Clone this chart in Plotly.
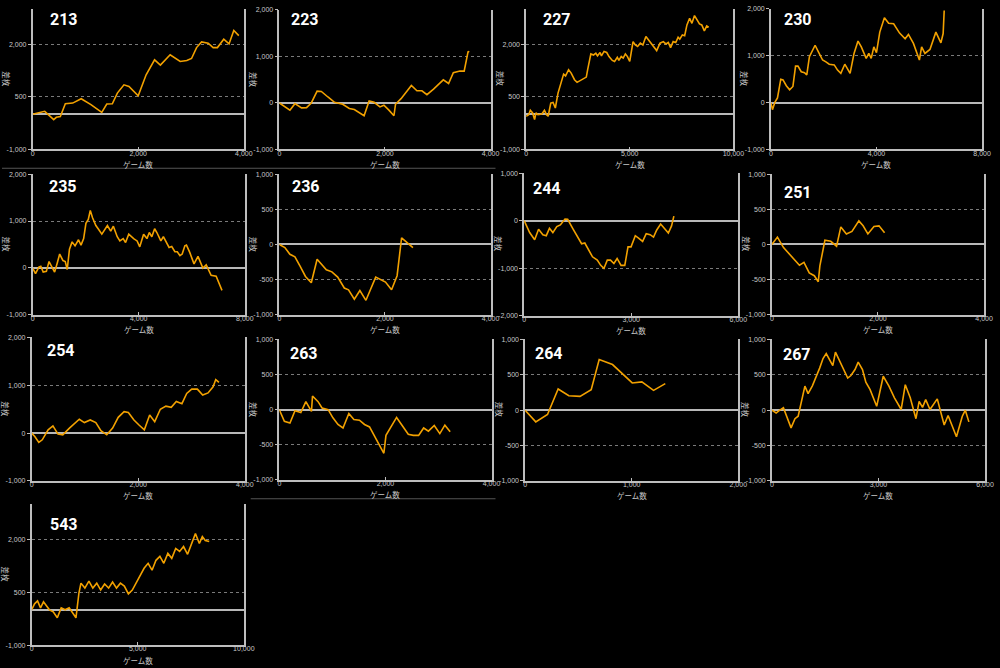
import plotly.graph_objects as go

# ---------------- data ----------------
names = ["213", "223", "227", "230", "235", "236", "244", "251", "254", "263", "264", "267", "543"]

x_213 = [0, 230, 400, 450, 525, 620, 760, 920, 1105, 1310, 1405, 1510, 1605, 1730, 1825, 2000, 2150, 2310, 2420, 2605, 2795, 2920, 3010, 3105, 3200, 3325, 3420, 3500, 3620, 3720, 3810, 3905]
y_213 = [0, 85, -150, -85, -65, 300, 320, 445, 275, 55, 295, 300, 605, 840, 795, 530, 1125, 1550, 1400, 1695, 1505, 1530, 1590, 1900, 2060, 2025, 1900, 1900, 2140, 2005, 2385, 2240]

x_223 = [0, 200, 295, 420, 515, 605, 715, 795, 920, 1045, 1200, 1325, 1420, 1605, 1700, 1795, 1905, 1980, 2075, 2170, 2200, 2305, 2500, 2605, 2700, 2795, 2920, 3030, 3105, 3205, 3295, 3420, 3500, 3575, 3595]
y_223 = [0, -155, -15, -105, -100, 0, 255, 248, 128, 14, -28, -120, -140, -275, 43, 14, -85, -50, -155, -275, -28, 92, 375, 262, 262, 177, 298, 418, 497, 418, 650, 685, 685, 1110, 1090]

x_227 = [0, 125, 205, 315, 410, 475, 570, 760, 885, 985, 1065, 1190, 1300, 1410, 1540, 1665, 1810, 1905, 2050, 2175, 2335, 2460, 2620, 2780, 2905, 2970, 3050, 3125, 3255, 3365, 3445, 3570, 3635, 3760, 3890, 4000, 4160, 4270, 4400, 4475, 4590, 4685, 4790, 4890, 5000, 5160, 5270, 5380, 5510, 5635, 5780, 5905, 6065, 6300, 6460, 6620, 6745, 6860, 6970, 7095, 7220, 7335, 7415, 7540, 7650, 7760, 7890, 8000, 8125, 8240, 8365, 8475, 8600, 8715, 8810]
y_227 = [-55, -10, 115, 40, -150, 40, -10, 10, 115, -10, -55, 320, 340, 180, 605, 890, 1145, 1095, 1270, 1175, 985, 910, 965, 1030, 1060, 1270, 1505, 1720, 1690, 1740, 1665, 1760, 1665, 1790, 1760, 1645, 1535, 1505, 1620, 1535, 1645, 1600, 1720, 1645, 1505, 2070, 1975, 1930, 2025, 1975, 2215, 2120, 1975, 1815, 2025, 2070, 2005, 2045, 1900, 2070, 2045, 2195, 2140, 2260, 2240, 2545, 2735, 2590, 2810, 2685, 2575, 2545, 2375, 2515, 2480]

x_230 = [0, 60, 150, 250, 375, 460, 585, 710, 835, 935, 1025, 1150, 1275, 1360, 1460, 1675, 1800, 1960, 2085, 2210, 2400, 2525, 2650, 2800, 3000, 3150, 3300, 3425, 3610, 3710, 3800, 3900, 4000, 4125, 4300, 4460, 4650, 4875, 5085, 5210, 5400, 5625, 5710, 5835, 6025, 6250, 6440, 6525, 6565]
y_230 = [0, -150, 5, 100, 500, 485, 360, 275, 345, 780, 780, 660, 640, 590, 980, 1225, 1085, 910, 870, 820, 805, 695, 625, 820, 625, 1050, 1315, 1190, 945, 1050, 945, 1190, 1065, 1505, 1810, 1695, 1685, 1485, 1365, 1455, 1265, 910, 1190, 1050, 1135, 1505, 1275, 1475, 1965]

x_235 = [0, 110, 235, 310, 400, 520, 620, 770, 830, 930, 1020, 1145, 1230, 1305, 1390, 1490, 1600, 1730, 1825, 1925, 2010, 2100, 2175, 2260, 2385, 2485, 2610, 2820, 2945, 3045, 3190, 3290, 3415, 3505, 3625, 3810, 3940, 4040, 4185, 4310, 4400, 4495, 4600, 4685, 4835, 4930, 5055, 5145, 5245, 5365, 5455, 5555, 5640, 5740, 5800, 5925, 6085, 6235, 6420, 6545, 6730, 6920, 7140]
y_235 = [0, -125, 15, 35, -90, -75, 135, -35, -90, 105, 295, 155, 135, -35, 400, 555, 470, 600, 485, 625, 950, 1035, 1225, 1070, 905, 825, 720, 905, 785, 890, 665, 575, 625, 540, 720, 625, 575, 450, 720, 625, 755, 665, 835, 755, 575, 665, 525, 435, 455, 345, 345, 260, 295, 470, 485, 330, 85, 245, -5, 65, -160, -180, -480]

x_236 = [0, 105, 200, 295, 390, 495, 605, 715, 890, 995, 1105, 1230, 1310, 1420, 1525, 1640, 1825, 2010, 2125, 2230, 2315, 2420, 2530]
y_236 = [0, -45, -140, -175, -305, -455, -545, -210, -360, -390, -465, -620, -645, -780, -655, -795, -465, -535, -645, -445, 95, 25, -45]

x_244 = [0, 155, 295, 405, 525, 620, 710, 805, 915, 1015, 1145, 1220, 1360, 1500, 1610, 1700, 1820, 1915, 2050, 2145, 2235, 2330, 2420, 2515, 2605, 2715, 2820, 2910, 2995, 3115, 3205, 3320, 3420, 3530, 3625, 3715, 3825, 3920, 4040, 4130, 4195]
y_244 = [0, -250, -400, -180, -295, -315, -160, -250, -125, -90, 35, 30, -160, -345, -485, -470, -640, -760, -830, -940, -1005, -830, -830, -900, -795, -940, -940, -550, -550, -315, -365, -435, -275, -295, -345, -195, -70, -160, -260, -110, 95]

x_251 = [0, 105, 220, 330, 440, 520, 605, 705, 800, 875, 905, 1000, 1110, 1220, 1300, 1405, 1510, 1640, 1720, 1810, 1925, 2020, 2125]
y_251 = [0, 105, -45, -140, -220, -295, -255, -405, -445, -530, -305, 60, 45, -25, 250, 150, 185, 335, 265, 150, 255, 265, 165]

x_254 = [0, 60, 135, 200, 310, 400, 495, 585, 710, 805, 895, 990, 1100, 1205, 1300, 1410, 1520, 1625, 1735, 1815, 1920, 2010, 2115, 2215, 2310, 2415, 2520, 2620, 2715, 2820, 2910, 3005, 3110, 3210, 3310, 3405, 3455, 3515]
y_254 = [0, -70, -195, -140, 70, 150, -20, -35, 105, 210, 290, 220, 275, 220, 50, -35, 105, 330, 450, 430, 275, 175, 70, 380, 240, 500, 565, 540, 660, 615, 830, 920, 920, 795, 840, 970, 1120, 1060]

x_263 = [0, 95, 200, 295, 405, 500, 605, 625, 730, 805, 920, 1010, 1105, 1200, 1310, 1405, 1510, 1605, 1700, 1825, 1970, 2010, 2105, 2210, 2325, 2430, 2525, 2625, 2720, 2810, 2920, 3025, 3120, 3220]
y_263 = [0, -165, -190, -15, -40, 115, -25, 195, 115, 25, 0, -115, -210, -260, -55, -140, -150, -210, -245, -425, -620, -365, -235, -110, -235, -350, -365, -365, -260, -305, -225, -340, -220, -315]

x_264 = [0, 100, 210, 310, 410, 515, 620, 695, 820, 895, 1005, 1095, 1205, 1315]
y_264 = [0, -165, -60, 300, 205, 195, 290, 715, 645, 540, 385, 400, 280, 375]

x_267 = [0, 120, 205, 325, 540, 650, 740, 930, 1020, 1140, 1345, 1440, 1530, 1715, 1790, 1950, 2135, 2225, 2340, 2430, 2550, 2645, 2765, 2950, 3135, 3295, 3450, 3640, 3755, 3895, 4055, 4145, 4240, 4330, 4450, 4655, 4850, 4960, 5195, 5360, 5445, 5545]
y_267 = [0, -40, -5, 35, -250, -120, -85, 340, 235, 345, 595, 730, 800, 630, 820, 645, 455, 490, 575, 680, 575, 395, 290, 55, 480, 340, 175, 10, 360, 175, -120, 125, 40, 150, 10, 160, -210, -75, -375, -85, 0, -165]

x_543 = [0, 140, 280, 420, 560, 700, 840, 1020, 1210, 1395, 1580, 1770, 1950, 2090, 2230, 2325, 2510, 2700, 2885, 3070, 3255, 3440, 3630, 3815, 4000, 4185, 4370, 4560, 4745, 4930, 5115, 5300, 5490, 5675, 5860, 6045, 6230, 6420, 6605, 6790, 6975, 7160, 7350, 7535, 7720, 7905, 8045, 8185, 8370]
y_543 = [0, 170, 250, 55, 225, 110, 0, -55, -225, 55, 0, 55, -110, -225, 475, 755, 615, 810, 615, 755, 560, 730, 615, 785, 615, 755, 670, 450, 560, 755, 950, 1175, 1315, 1120, 1400, 1510, 1315, 1595, 1455, 1735, 1650, 1790, 1570, 1875, 2155, 1875, 2070, 1960, 1930]

# tick values
xt_213 = [0, 2000, 4000];  yt_213 = [-1000, 500, 2000]
xt_223 = [0, 2000, 4000];  yt_223 = [-1000, 0, 1000, 2000]
xt_227 = [0, 5000, 10000]; yt_227 = [-1000, 500, 2000]
xt_230 = [0, 4000, 8000];  yt_230 = [-1000, 0, 1000, 2000]
xt_235 = [0, 4000, 8000];  yt_235 = [-1000, 0, 1000, 2000]
xt_236 = [0, 2000, 4000];  yt_236 = [-1000, -500, 0, 500, 1000]
xt_244 = [0, 3000, 6000];  yt_244 = [-2000, -1000, 0, 1000]
xt_251 = [0, 2000, 4000];  yt_251 = [-1000, -500, 0, 500, 1000]
xt_254 = [0, 2000, 4000];  yt_254 = [-1000, 0, 1000, 2000]
xt_263 = [0, 2000, 4000];  yt_263 = [-1000, -500, 0, 500, 1000]
xt_264 = [0, 1000, 2000];  yt_264 = [-1000, -500, 0, 500, 1000]
xt_267 = [0, 3000, 6000];  yt_267 = [-1000, -500, 0, 500, 1000]
xt_543 = [0, 5000, 10000]; yt_543 = [-1000, 500, 2000]

x_title = "ゲーム数"
y_title = "差枚"

series = [
    (x_213, y_213, xt_213, yt_213), (x_223, y_223, xt_223, yt_223),
    (x_227, y_227, xt_227, yt_227), (x_230, y_230, xt_230, yt_230),
    (x_235, y_235, xt_235, yt_235), (x_236, y_236, xt_236, yt_236),
    (x_244, y_244, xt_244, yt_244), (x_251, y_251, xt_251, yt_251),
    (x_254, y_254, xt_254, yt_254), (x_263, y_263, xt_263, yt_263),
    (x_264, y_264, xt_264, yt_264), (x_267, y_267, xt_267, yt_267),
    (x_543, y_543, xt_543, yt_543),
]

# ---------------- layout (pixels) ----------------
W, H = 1000, 668
# plot boxes: left, right, top, bottom
boxes = [
    (31, 245, 5, 147), (281, 495, 6, 147), (531, 741, 5, 147), (779, 993, 5, 147),
    (31, 246, 172, 314), (281, 495, 172, 314), (529, 746, 171, 315), (780, 995, 172, 314),
    (30, 246, 337, 482), (281, 496, 339, 481), (530, 746, 339, 482), (780, 996, 339, 482),
    (30, 245, 505, 648),
]
# y range tops where not equal to last tick
y_tops = {"213": 3000, "227": 3000, "543": 3000}
# title label positions (left x, center y)
label_pos = [
    (47, 16), (291, 16), (546, 16), (790, 16),
    (46, 184), (292, 184), (536, 186), (790, 190),
    (44, 350), (290, 353), (538, 353), (789, 354),
    (47, 526),
]

AX = "#bdbdbd"
GRID = "#7a7a7a"
TXT = "#c8c8c8"
LINE = "#F2A100"
TICKFONT = dict(family="Liberation Sans, Arial, sans-serif", size=7, color=TXT)
JPFONT = dict(family="Noto Sans CJK JP", size=7.5, color=TXT)


def fmt(v):
    return f"{v:,}"


def px(x):
    return x / W


def py(y):
    return 1 - y / H


fig = go.Figure()
layout = dict(
    width=W, height=H, margin=dict(l=0, r=0, t=0, b=0),
    paper_bgcolor="black", plot_bgcolor="black", showlegend=False,
)
annotations = []

for i, (name, (xs, ys, xt, yt), (L, R, T, B), (lx, ly)) in enumerate(zip(names, series, boxes, label_pos)):
    k = i + 1
    sfx = "" if k == 1 else str(k)
    fig.add_trace(go.Scatter(
        x=xs, y=ys, mode="lines", line=dict(color=LINE, width=1.6),
        xaxis=f"x{sfx}", yaxis=f"y{sfx}", hoverinfo="skip",
    ))
    ytop = y_tops.get(name, yt[-1])
    layout[f"xaxis{sfx}"] = dict(
        domain=[px(L), px(R)], anchor=f"y{sfx}", range=[xt[0], xt[-1]],
        tickmode="array", tickvals=xt, ticktext=[fmt(v) for v in xt],
        showgrid=False, zeroline=False, showline=True, linecolor=AX, linewidth=1.5,
        ticks="inside", ticklen=3, tickcolor=AX, tickfont=TICKFONT, fixedrange=True,
        ticklabelstandoff=-4,
    )
    layout[f"yaxis{sfx}"] = dict(
        domain=[py(B), py(T)], anchor=f"x{sfx}", range=[yt[0], ytop],
        tickmode="array", tickvals=yt, ticktext=[fmt(v) for v in yt],
        showgrid=True, gridcolor=GRID, griddash="dot", gridwidth=1,
        zeroline=True, zerolinecolor="#b8b8b8", zerolinewidth=1.5,
        showline=True, mirror=True, linecolor=AX, linewidth=1.5,
        ticks="outside", ticklen=3, tickcolor=AX, tickfont=TICKFONT, fixedrange=True,
    )
    # panel number
    annotations.append(dict(
        x=px(lx), y=py(ly), xref="paper", yref="paper", xanchor="left", yanchor="middle",
        text=f"<b>{name}</b>", showarrow=False,
        font=dict(family="Roboto, Arial, sans-serif", size=16, color="white"),
    ))
    # x axis title
    annotations.append(dict(
        x=px((L + R) / 2), y=py(B + 15), xref="paper", yref="paper",
        xanchor="center", yanchor="middle", text=x_title, showarrow=False, font=JPFONT,
    ))
    # y axis title
    annotations.append(dict(
        x=px(L - 26), y=py((T + B) / 2), xref="paper", yref="paper",
        xanchor="center", yanchor="middle", text=y_title, textangle=90,
        showarrow=False, font=JPFONT,
    ))

layout["annotations"] = annotations
layout["shapes"] = [
    dict(type="line", xref="paper", yref="paper", x0=0, x1=px(500), y0=py(166), y1=py(166),
         line=dict(color="#555555", width=1)),
    dict(type="line", xref="paper", yref="paper", x0=px(252), x1=px(500), y0=py(500), y1=py(500),
         line=dict(color="#555555", width=1)),
]
fig.update_layout(**layout)
fig.write_html("out.html")
